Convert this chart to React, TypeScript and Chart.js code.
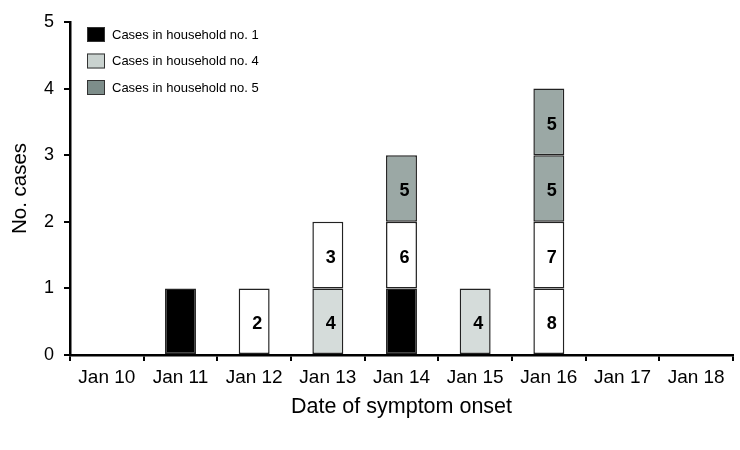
import React, { useEffect, useRef } from "react";
import { Chart, registerables } from "chart.js";

Chart.register(...registerables);

const dates = ["Jan 10", "Jan 11", "Jan 12", "Jan 13", "Jan 14", "Jan 15", "Jan 16", "Jan 17", "Jan 18"];
// household number of each case, stacked from bottom to top, per onset date
const stacks: number[][] = [[], [1], [2], [4, 3], [1, 6, 5], [4], [8, 7, 5, 5], [], []];
const legendHouseholds = [1, 4, 5];
const legendLabels = ["Cases in household no. 1", "Cases in household no. 4", "Cases in household no. 5"];

const FONT = "'Liberation Sans', Arial, Helvetica, sans-serif";

const colorFor = (h: number) => (h === 1 ? "#000000" : h === 4 ? "#d5dcda" : h === 5 ? "#9ba8a5" : "#ffffff");
const legendColorFor = (h: number) => (h === 1 ? "#000000" : h === 4 ? "#c9d2cf" : "#7d8d8a");

const maxLevel = Math.max(...stacks.map((s) => s.length));

export default function App() {
  const ref = useRef<HTMLCanvasElement | null>(null);
  useEffect(() => {
    document.body.style.margin = "0";
    const datasets = Array.from({ length: maxLevel }, (_, lvl) => ({
      label: "level " + lvl,
      data: stacks.map((s) => (s.length > lvl ? 1 : null)),
      backgroundColor: stacks.map((s) => colorFor(s[lvl] ?? 0)),
      borderColor: "#222222",
      borderWidth: 1.5,
      borderSkipped: false as const,
      barPercentage: 0.84,
      categoryPercentage: 0.5,
    }));

    const labelPlugin = {
      id: "cellLabels",
      afterDatasetsDraw(chart: any) {
        const ctx = chart.ctx;
        ctx.save();
        ctx.font = `bold 18px ${FONT}`;
        ctx.fillStyle = "#000";
        ctx.textAlign = "center";
        ctx.textBaseline = "middle";
        chart.data.datasets.forEach((ds: any, lvl: number) => {
          const meta = chart.getDatasetMeta(lvl);
          meta.data.forEach((el: any, i: number) => {
            const h = stacks[i][lvl];
            if (h === undefined || h === 1) return;
            const y = (el.y + el.base) / 2;
            ctx.fillText(String(h), el.x + 3, y + 3);
          });
        });
        ctx.restore();
      },
    };

    const legendPlugin = {
      id: "insideLegend",
      afterDraw(chart: any) {
        const ctx = chart.ctx;
        ctx.save();
        const x0 = chart.chartArea.left + 17;
        const y0 = chart.chartArea.top + 5;
        legendHouseholds.forEach((h, i) => {
          const y = y0 + i * 26.5;
          ctx.fillStyle = legendColorFor(h);
          ctx.fillRect(x0, y, 18, 15);
          ctx.strokeStyle = "#333";
          ctx.lineWidth = 1;
          ctx.strokeRect(x0 + 0.5, y + 0.5, 17, 14);
          ctx.fillStyle = "#000";
          ctx.font = `13px ${FONT}`;
          ctx.textAlign = "left";
          ctx.textBaseline = "middle";
          ctx.fillText(legendLabels[i], x0 + 25, y + 8);
        });
        ctx.restore();
      },
    };

    const chart = new Chart(ref.current!, {
      type: "bar",
      data: { labels: dates, datasets },
      plugins: [labelPlugin, legendPlugin],
      options: {
        animation: false,
        responsive: false,
        layout: { padding: { top: 22, right: 7, left: 4, bottom: 30 } },
        plugins: { legend: { display: false }, tooltip: { enabled: false } },
        scales: {
          x: {
            stacked: true,
            grid: { offset: true, drawOnChartArea: false, tickLength: 6, color: "#000", lineWidth: 2 },
            border: { color: "#000", width: 2.5 },
            ticks: { color: "#000", font: { size: 19, family: FONT }, padding: 5 },
            title: { display: true, text: "Date of symptom onset", color: "#000", font: { size: 21.5, family: FONT }, padding: { top: 8, bottom: 0 } },
            afterFit: (s: any) => { s.height = 65; },
          },
          y: {
            stacked: true,
            min: 0,
            max: 5,
            grid: { drawOnChartArea: false, tickLength: 6, color: "#000", lineWidth: 2 },
            border: { color: "#000", width: 2.5 },
            ticks: { stepSize: 1, color: "#000", font: { size: 18, family: FONT }, padding: 10 },
            title: { display: true, text: "No. cases", color: "#000", font: { size: 20.5, family: FONT }, padding: { bottom: 4 } },
            afterFit: (s: any) => { s.width = 66; },
          },
        },
      },
    });
    return () => chart.destroy();
  }, []);
  return <canvas ref={ref} width={740} height={450} style={{ display: "block" }} />;
}
